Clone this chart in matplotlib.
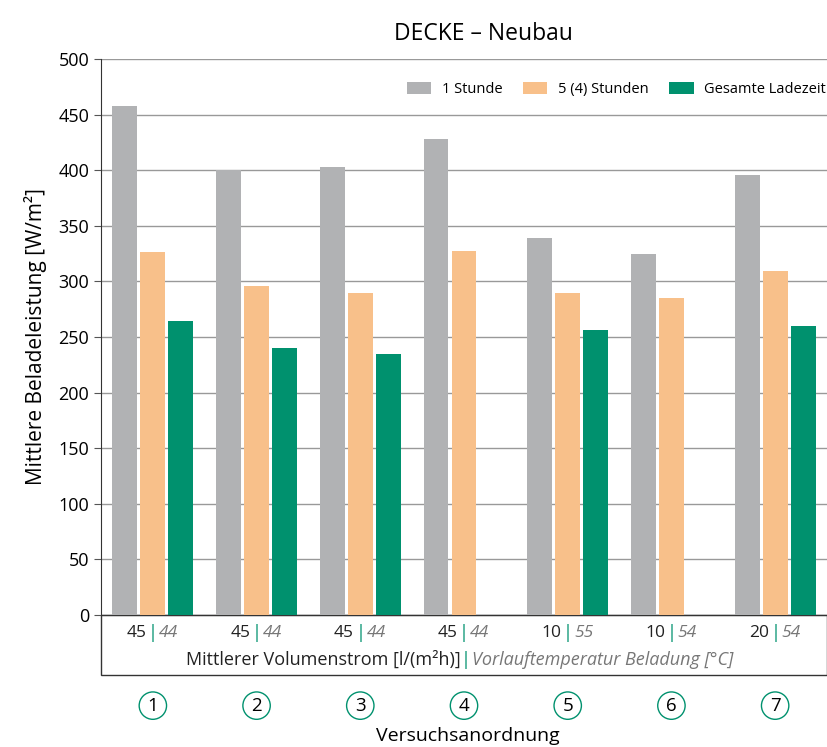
import matplotlib.pyplot as plt
import numpy as np
from matplotlib.patches import Rectangle

plt.rcParams['font.family'] = ['Open Sans', 'DejaVu Sans']

versuche = ['1', '2', '3', '4', '5', '6', '7']
volumenstrom = ['45', '45', '45', '45', '10', '10', '20']
vorlauf = ['44', '44', '44', '44', '55', '54', '54']
stunde_1 = [458, 400, 403, 428, 339, 325, 396]
stunden_5 = [326, 296, 290, 327, 290, 285, 309]
gesamt = [264, 240, 235, np.nan, 256, np.nan, 260]

c_gray = '#b1b2b4'
c_orange = '#f8c08a'
c_green = '#00916e'

fig = plt.figure(figsize=(8.28, 7.47), dpi=100)
ax = fig.add_axes([101 / 828, 1 - 615 / 747, 726 / 828, 556 / 747])

x = np.arange(len(versuche))
w = 0.24
ax.bar(x - 0.27, stunde_1, w, color=c_gray, label='1 Stunde', zorder=3)
ax.bar(x, stunden_5, w, color=c_orange, label='5 (4) Stunden', zorder=3)
ax.bar(x + 0.27, gesamt, w, color=c_green, label='Gesamte Ladezeit', zorder=3)

ax.set_xlim(-0.5, len(versuche) - 0.5)
ax.set_ylim(0, 500)
ax.set_yticks(np.arange(0, 501, 50))
ax.set_xticks([])
ax.tick_params(axis='y', labelsize=13, length=5, width=0.8, color='#555555')
ax.yaxis.grid(True, color='#999999', linewidth=1, zorder=0)
for s in ['top', 'right']:
    ax.spines[s].set_visible(False)
ax.spines['left'].set_color('#333333')
ax.spines['bottom'].set_color('#333333')
ax.set_ylabel('Mittlere Beladeleistung [W/m²]', fontsize=15, labelpad=8)
ax.set_title('DECKE – Neubau', fontsize=16.5, pad=14, x=(483 - 101) / 726)

ax.legend(loc='upper right', ncol=3, frameon=False, fontsize=10.5,
          handlelength=1.7, handleheight=0.9, columnspacing=1.4,
          handletextpad=0.7, bbox_to_anchor=(1.016, 0.982))

# box below the axis
box = Rectangle((0, -0.108), 1, 0.108, transform=ax.transAxes, fill=False,
                edgecolor='#333333', linewidth=1, clip_on=False)
ax.add_patch(box)

trans = ax.get_xaxis_transform()
for i in x:
    ax.text(i, -0.033, '|', color=c_green, fontsize=13, ha='center', va='center',
            transform=trans)
    ax.annotate(volumenstrom[i], (i, -0.033), xycoords=trans, xytext=(-4.5, 0),
                textcoords='offset points', ha='right', va='center', fontsize=12.5,
                color='#222222')
    ax.annotate(vorlauf[i], (i, -0.033), xycoords=trans, xytext=(4.5, 0),
                textcoords='offset points', ha='left', va='center', fontsize=12.5,
                color='#777777', style='italic')
    ax.text(i, -0.163, versuche[i], fontsize=13.5, ha='center', va='center',
            transform=trans,
            bbox=dict(boxstyle='circle,pad=0.25', fc='none', ec=c_green, lw=1))

sep = (466 - 101) / 726
ax.text(sep, -0.081, '|', color=c_green, fontsize=13, ha='center', va='center',
        transform=ax.transAxes)
ax.annotate('Mittlerer Volumenstrom [l/(m²h)]', (sep, -0.081), xycoords='axes fraction',
            xytext=(-4, 0), textcoords='offset points', ha='right', va='center',
            fontsize=13, color='#222222')
ax.annotate('Vorlauftemperatur Beladung [°C]', (sep, -0.081), xycoords='axes fraction',
            xytext=(4, 0), textcoords='offset points', ha='left', va='center',
            fontsize=13, color='#777777', style='italic')

ax.text((468 - 101) / 726, -0.217, 'Versuchsanordnung', fontsize=14, ha='center',
        va='center', transform=ax.transAxes)

fig.savefig('out.png', dpi=100)
